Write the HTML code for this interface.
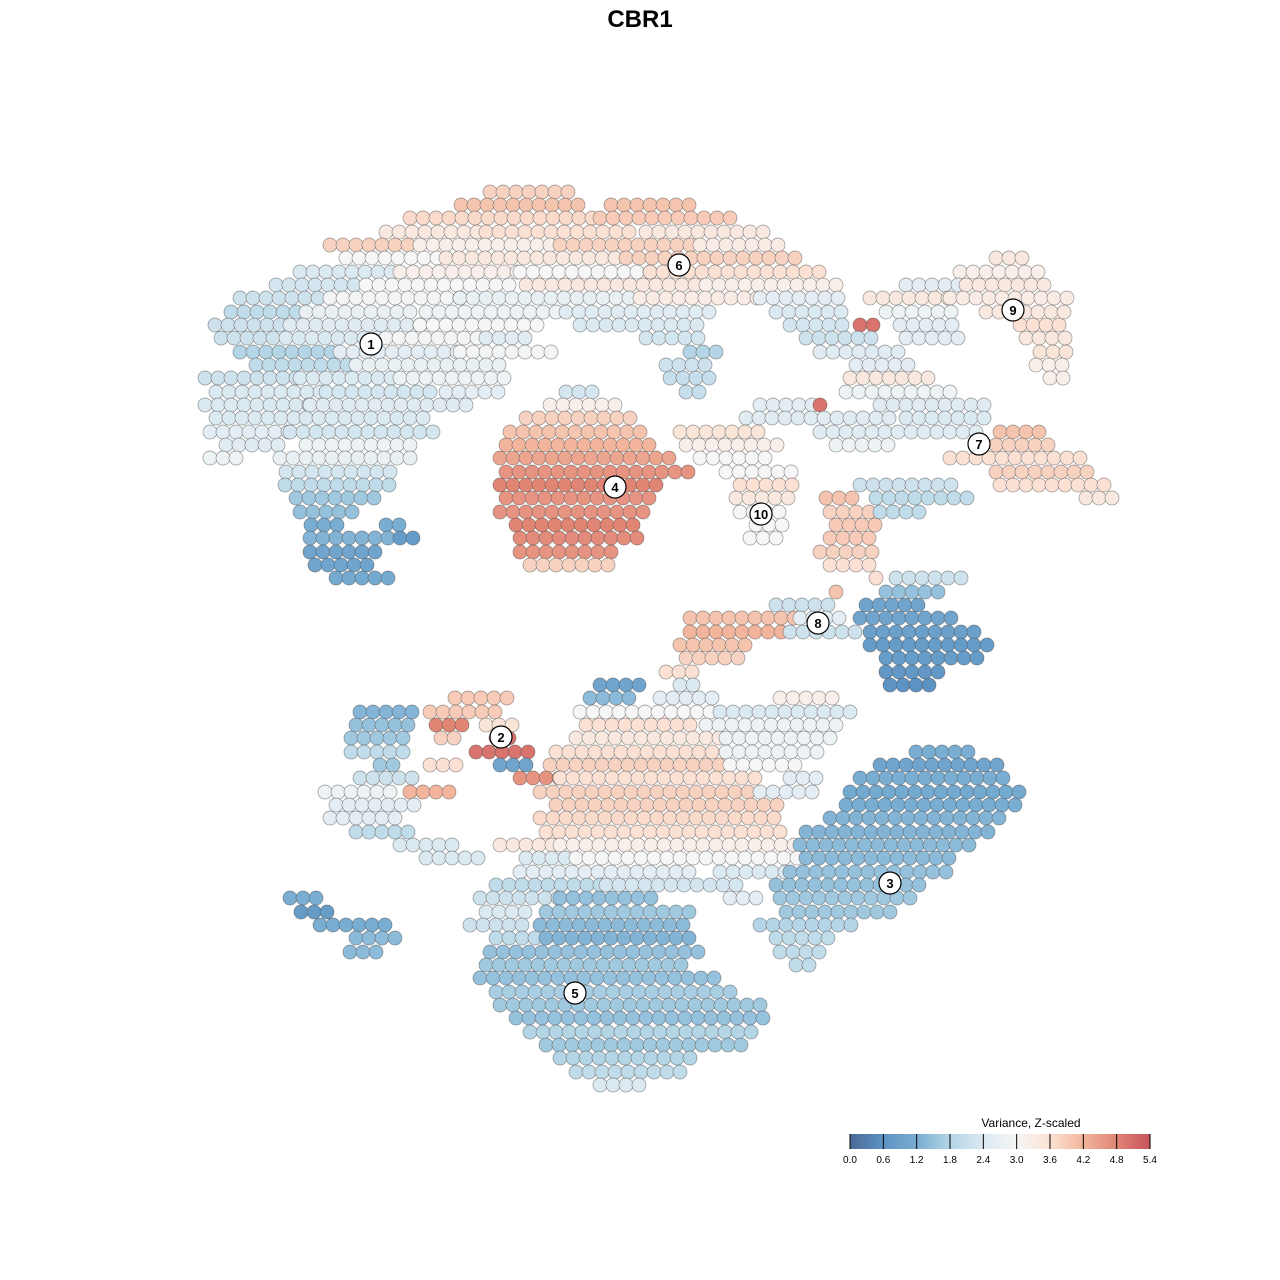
<!DOCTYPE html>
<html><head><meta charset="utf-8"><title>CBR1</title>
<style>
html,body{margin:0;padding:0;background:#fff;}
svg{display:block;font-family:"Liberation Sans",Arial,sans-serif;}
</style></head>
<body>
<svg id="chart" width="1280" height="1280" viewBox="0 0 1280 1280">
  <text x="640" y="27" text-anchor="middle" font-size="24" font-weight="bold">CBR1</text>
  <g id="points"></g>
  <g id="labels"></g>
  <g id="legend">
    <defs>
      <linearGradient id="grad" x1="0" x2="1" y1="0" y2="0">
        <stop offset="0" stop-color="#4a6a97"/>
        <stop offset="0.111" stop-color="#5d93c3"/>
        <stop offset="0.222" stop-color="#79add2"/>
        <stop offset="0.333" stop-color="#b3d5e6"/>
        <stop offset="0.444" stop-color="#dbe9f1"/>
        <stop offset="0.556" stop-color="#f6f6f6"/>
        <stop offset="0.667" stop-color="#fbe1d3"/>
        <stop offset="0.778" stop-color="#f2b59c"/>
        <stop offset="0.889" stop-color="#e08474"/>
        <stop offset="1" stop-color="#c8525e"/>
      </linearGradient>
    </defs>
    <text x="1031" y="1127" text-anchor="middle" font-size="12">Variance, Z-scaled</text>
    <rect x="850" y="1134" width="300" height="15" fill="url(#grad)"/>
    <g id="legticks"></g>
  </g>
</svg>
<script>
// Legend
const legendTicks = ["0.0","0.6","1.2","1.8","2.4","3.0","3.6","4.2","4.8","5.4"];
// Cluster labels
const clusterNames = ["1","6","9","7","4","10","8","2","3","5"];
const clusterX = [-26.9,3.9,37.3,33.9,-2.5,12.1,17.8,-13.9,25.0,-6.5];
const clusterY = [29.6,37.5,33.0,19.6,15.3,12.6,1.7,-9.7,-24.3,-35.3];
// Point runs (data units): row y, run start x, run end x, z-scaled value
const runY = [], runX0 = [], runX1 = [], runV = [];
const runsText = `
192:490-575:3.8
205:455-590:4.0|605-690:4.0
218:410-600:3.7|600-740:3.9
232:380-480:3.4|480-640:3.6|640-770:3.4
245:330-420:3.8|420-560:3.2|560-700:3.8|700-780:3.3
258:340-440:3.0|440-620:3.4|620-800:3.8|990-1030:3.4
272:300-400:2.4|400-520:3.2|520-650:3.0|650-830:3.6|960-1040:3.2
285:270-360:2.3|360-520:3.0|520-700:3.4|700-840:3.2|900-960:2.6|960-1050:3.4
298:240-330:2.2|330-460:2.9|460-640:2.7|640-760:3.3|760-840:2.6|870-950:3.4|950-1070:3.3
312:225-300:2.0|300-420:2.7|420-560:2.8|560-720:2.5|770-850:2.4|880-960:2.8|980-1070:3.4
325:215-290:2.2|290-420:2.5|420-540:3.0|580-700:2.4|790-850:2.3|860-885:5.0|900-960:2.6|1020-1070:3.6
338:215-280:2.2|280-380:2.4|380-480:2.9|480-530:2.5|640-700:2.3|800-880:2.2|900-960:2.6|1020-1070:3.4
352:240-340:1.8|340-460:2.6|460-560:2.9|690-720:1.8|820-900:2.5|1040-1070:3.5
365:250-350:2.0|350-500:2.7|660-715:2.2|850-920:2.6|1030-1070:3.2
378:205-300:2.2|300-400:2.4|400-510:2.8|670-710:2.1|850-930:3.4|1050-1070:3.2
392:210-320:2.4|320-440:2.3|440-500:2.6|560-600:2.3|680-700:2.1|840-960:2.8
405:205-310:2.4|310-470:2.5|550-620:3.2|760-820:2.6|820-830:5.0|880-990:2.5
418:210-300:2.4|300-430:2.4|520-640:3.8|740-900:2.5|900-990:2.4
432:210-290:2.6|290-440:2.3|510-640:4.0|680-770:3.5|820-980:2.5|1000-1050:4.0
445:220-280:2.5|300-420:2.8|500-660:4.2|680-780:3.2|830-900:2.8|990-1060:3.8
458:210-240:2.8|280-410:2.7|500-670:4.4|700-770:3.0|950-1080:3.6
472:280-400:2.3|500-690:4.6|720-800:3.0|990-1090:3.8
485:285-390:2.0|500-660:4.8|740-800:3.6|860-960:2.2|1000-1110:3.6
498:290-380:1.6|500-660:4.6|730-790:3.4|820-860:4.0|870-970:2.0|1080-1120:3.4
512:300-360:1.5|500-650:4.6|740-790:3.0|830-870:3.8|880-930:2.0
525:305-340:1.2|380-410:1.2|510-640:4.8|750-790:3.0|830-880:3.9
538:310-390:1.3|400-420:0.8|520-640:4.7|750-780:3.0|830-880:3.9
552:310-380:1.0|520-620:4.6|820-880:3.8
565:315-370:1.0|530-610:3.8|830-880:3.6
578:330-390:1.1|870-880:3.6|890-970:2.2
592:830-845:4.0|880-940:1.5
605:770-840:2.2|860-920:1.0
618:690-800:4.0|800-840:2.6|860-960:1.0
632:690-790:4.2|790-860:2.2|870-980:0.9
645:680-750:4.0|870-990:0.8
658:680-740:3.8|880-980:0.8
672:660-700:3.6|880-950:0.7
685:600-640:1.0|680-700:2.4|890-930:0.6
698:455-510:3.9|590-640:1.4|660-720:2.6|780-840:3.2
712:360-420:1.3|430-500:3.9|580-720:3.0|720-860:2.4
725:350-420:1.5|430-470:4.8|480-520:3.5|580-700:3.6|700-840:2.8
738:345-410:1.6|435-460:3.8|490-520:5.0|570-720:3.4|720-830:2.8
752:345-410:2.0|470-530:5.0|550-720:3.6|720-820:2.8|910-970:1.2
765:380-400:1.6|430-460:3.6|500-530:1.0|550-730:3.8|730-800:3.0|880-1000:1.0
778:360-420:2.2|520-560:4.6|560-760:3.6|790-820:2.6|860-1010:1.2
792:325-400:2.8|410-450:4.2|540-760:3.8|760-820:2.6|850-1020:1.1
805:330-420:2.6|550-780:3.8|840-1020:1.2
818:330-400:2.6|540-780:3.7|830-1010:1.3
832:350-420:2.0|540-780:3.6|800-990:1.3
845:400-460:2.4|500-560:3.4|560-800:3.2|800-980:1.4
858:420-480:2.4|520-570:2.4|570-800:3.0|800-960:1.4
872:520-700:2.6|720-790:2.4|790-950:1.5
885:490-600:2.0|600-740:2.3|770-930:1.5
898:290-320:1.2|480-560:2.2|560-660:1.5|730-760:2.6|780-910:1.6
912:295-330:0.8|480-530:2.4|540-700:1.6|780-890:1.6
925:320-390:1.2|470-530:2.2|540-690:1.4|760-860:1.8
938:350-400:1.4|490-540:2.0|540-700:1.3|770-840:2.0
952:350-380:1.4|490-700:1.5|780-820:2.0
965:480-690:1.6|790-810:2.0
978:480-720:1.5
992:490-740:1.7
1005:500-760:1.6
1018:510-770:1.5
1032:530-760:1.8
1045:540-750:1.6
1058:560-700:1.8
1072:570-680:2.0
1085:600-650:2.4`;
runsText.trim().split("\n").forEach(function(line){
  const parts = line.split(":");
  const py = +parts[0];
  line.slice(line.indexOf(":")+1).split("|").forEach(function(seg){
    const m = seg.split(":");
    const xs = m[0].split("-");
    runY.push((640 - py) / 10);
    runX0.push((+xs[0] - 640) / 10);
    runX1.push((+xs[1] - 640) / 10);
    runV.push(+m[1]);
  });
});

// Axis functions
function xScale(d){ return 640 + d * 10; }
function yScale(d){ return 640 - d * 10; }
const stopsV = [0,0.6,1.2,1.8,2.4,3.0,3.6,4.2,4.8,5.4];
const stopsC = ["#4a6a97","#5d93c3","#79add2","#b3d5e6","#dbe9f1","#f6f6f6","#fbe1d3","#f2b59c","#e08474","#c8525e"];
function hex(c){ return [parseInt(c.substr(1,2),16),parseInt(c.substr(3,2),16),parseInt(c.substr(5,2),16)]; }
function color(v){
  v = Math.max(0, Math.min(5.4, v));
  let i = Math.min(8, Math.floor(v / 0.6));
  const t = (v - stopsV[i]) / 0.6;
  const a = hex(stopsC[i]), b = hex(stopsC[i+1]);
  return "rgb(" + a.map(function(x,k){ return Math.round(x + (b[k]-x)*t); }).join(",") + ")";
}
const NS = "http://www.w3.org/2000/svg";
const gp = document.getElementById("points");
for (let r = 0; r < runY.length; r++) {
  const py = yScale(runY[r]);
  const rowIdx = Math.round(py / 13.3);
  const off = (rowIdx % 2) ? 6 : 0;
  const x0 = xScale(runX0[r]), x1 = xScale(runX1[r]);
  for (let px = x0 + off; px <= x1 + 0.1 || px === x0 + off; px += 13) {
    const c = document.createElementNS(NS, "circle");
    c.setAttribute("cx", px.toFixed(1));
    c.setAttribute("cy", py.toFixed(1));
    c.setAttribute("r", 7);
    c.setAttribute("fill", color(runV[r]));
    c.setAttribute("stroke", "rgba(70,70,70,0.55)");
    c.setAttribute("stroke-width", "0.7");
    
    
    gp.appendChild(c);
    if (x1 - x0 < 13) break;
  }
}
const gl = document.getElementById("labels");
for (let i = 0; i < clusterNames.length; i++) {
  const g = document.createElementNS(NS, "g");
  
  
  const c = document.createElementNS(NS, "circle");
  c.setAttribute("cx", xScale(clusterX[i])); c.setAttribute("cy", yScale(clusterY[i]));
  c.setAttribute("r", 11); c.setAttribute("fill", "#fff"); c.setAttribute("stroke", "#000"); c.setAttribute("stroke-width", "1.2");
  const t = document.createElementNS(NS, "text");
  t.setAttribute("x", xScale(clusterX[i])); t.setAttribute("y", yScale(clusterY[i]) + 5);
  t.setAttribute("text-anchor", "middle"); t.setAttribute("font-size", "13"); t.setAttribute("font-weight", "bold");
  t.textContent = clusterNames[i];
  g.appendChild(c); g.appendChild(t); gl.appendChild(g);
}
const gt = document.getElementById("legticks");
for (let i = 0; i < legendTicks.length; i++) {
  const x = 850 + i * (300 / 9);
  const l = document.createElementNS(NS, "line");
  l.setAttribute("x1", x); l.setAttribute("x2", x); l.setAttribute("y1", 1134); l.setAttribute("y2", 1149);
  l.setAttribute("stroke", "#000"); l.setAttribute("stroke-width", "1");
  
  
  gt.appendChild(l);
  const t = document.createElementNS(NS, "text");
  t.setAttribute("x", x); t.setAttribute("y", 1163); t.setAttribute("text-anchor", "middle"); t.setAttribute("font-size", "10");
  t.textContent = legendTicks[i];
  
  
  gt.appendChild(t);
}
</script>
</body></html>
